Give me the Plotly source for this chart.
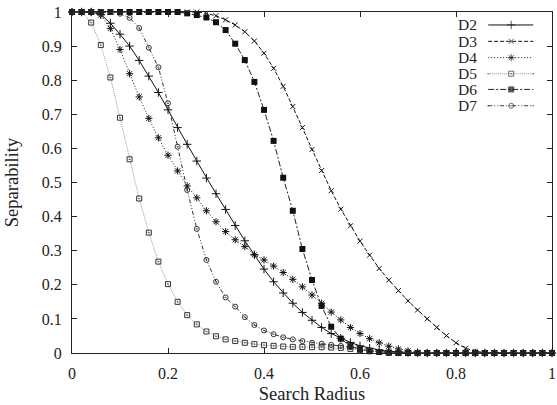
import plotly.graph_objects as go

# ---------------- data ----------------
radius = [0.00, 0.02, 0.04, 0.06, 0.08, 0.10, 0.12, 0.14, 0.16, 0.18,
          0.20, 0.22, 0.24, 0.26, 0.28, 0.30, 0.32, 0.34, 0.36, 0.38,
          0.40, 0.42, 0.44, 0.46, 0.48, 0.50, 0.52, 0.54, 0.56, 0.58,
          0.60, 0.62, 0.64, 0.66, 0.68, 0.70, 0.72, 0.74, 0.76, 0.78,
          0.80, 0.82, 0.84, 0.86, 0.88, 0.90, 0.92, 0.94, 0.96, 0.98, 1.00]

d2 = [1, 1, 1, 0.993, 0.967, 0.935, 0.900, 0.858, 0.812, 0.764,
      0.713, 0.661, 0.612, 0.563, 0.513, 0.467, 0.421, 0.374, 0.329, 0.288,
      0.246, 0.209, 0.176, 0.146, 0.119, 0.096, 0.075, 0.057, 0.043, 0.031,
      0.021, 0.014, 0.009, 0.005, 0.003, 0.001, 0, 0, 0, 0,
      0, 0, 0, 0, 0, 0, 0, 0, 0, 0, 0]

d3 = [1, 1, 1, 1, 1, 1, 1, 1, 1, 1,
      1, 1, 1, 1, 0.996, 0.989, 0.977, 0.962, 0.942, 0.915,
      0.879, 0.835, 0.782, 0.723, 0.661, 0.597, 0.535, 0.476, 0.422, 0.373,
      0.328, 0.287, 0.248, 0.214, 0.183, 0.153, 0.126, 0.100, 0.075, 0.051,
      0.030, 0.014, 0.005, 0.001, 0, 0, 0, 0, 0, 0, 0]

d4 = [1, 1, 1, 0.991, 0.952, 0.890, 0.819, 0.751, 0.688, 0.631,
      0.580, 0.534, 0.490, 0.455, 0.417, 0.385, 0.356, 0.332, 0.312, 0.288,
      0.273, 0.255, 0.236, 0.216, 0.194, 0.170, 0.146, 0.120, 0.097, 0.075,
      0.057, 0.042, 0.030, 0.020, 0.012, 0.006, 0.002, 0, 0, 0,
      0, 0, 0, 0, 0, 0, 0, 0, 0, 0, 0]

d5 = [1, 1, 0.969, 0.903, 0.808, 0.690, 0.568, 0.453, 0.353, 0.268,
      0.202, 0.150, 0.111, 0.084, 0.063, 0.049, 0.040, 0.035, 0.030, 0.026,
      0.023, 0.021, 0.019, 0.018, 0.018, 0.017, 0.017, 0.016, 0.015, 0.012,
      0.008, 0.005, 0.003, 0.001, 0, 0, 0, 0, 0, 0,
      0, 0, 0, 0, 0, 0, 0, 0, 0, 0, 0]

d6 = [1, 1, 1, 1, 1, 1, 1, 1, 1, 1,
      1, 1, 0.996, 0.991, 0.984, 0.970, 0.947, 0.907, 0.859, 0.795,
      0.713, 0.622, 0.514, 0.417, 0.305, 0.214, 0.138, 0.077, 0.042, 0.020,
      0.011, 0.006, 0.003, 0.001, 0, 0, 0, 0, 0, 0,
      0, 0, 0, 0, 0, 0, 0, 0, 0, 0, 0]

d7 = [1, 1, 1, 1, 1, 0.995, 0.983, 0.953, 0.895, 0.838,
      0.732, 0.605, 0.478, 0.364, 0.273, 0.209, 0.163, 0.136, 0.105, 0.082,
      0.066, 0.055, 0.046, 0.040, 0.035, 0.030, 0.027, 0.024, 0.021, 0.017,
      0.012, 0.007, 0.004, 0.002, 0, 0, 0, 0, 0, 0,
      0, 0, 0, 0, 0, 0, 0, 0, 0, 0, 0]

series_names = ["D2", "D3", "D4", "D5", "D6", "D7"]
series_values = [d2, d3, d4, d5, d6, d7]

x_ticks = [0, 0.2, 0.4, 0.6, 0.8, 1]
x_tick_labels = ["0", "0.2", "0.4", "0.6", "0.8", "1"]
y_ticks = [0, 0.1, 0.2, 0.3, 0.4, 0.5, 0.6, 0.7, 0.8, 0.9, 1]
y_tick_labels = ["0", "0.1", "0.2", "0.3", "0.4", "0.5", "0.6", "0.7", "0.8", "0.9", "1"]

# ---------------- styles ----------------
styles = {
    "D2": dict(line=dict(color="#111111", width=1, dash="solid"),
               marker=dict(symbol="cross-thin-open", size=6, line=dict(color="#111111", width=1))),
    "D3": dict(line=dict(color="#111111", width=1, dash="4px,2px"),
               marker=dict(symbol="x-thin-open", size=5, line=dict(color="#111111", width=1))),
    "D4": dict(line=dict(color="#111111", width=1, dash="1px,2px"),
               marker=dict(symbol="asterisk-open", size=6, line=dict(color="#111111", width=1))),
    "D5": dict(line=dict(color="#9a9a9a", width=1, dash="1px,1px"),
               marker=dict(symbol="square-open-dot", size=5, color="#333333", line=dict(color="#333333", width=1))),
    "D6": dict(line=dict(color="#222222", width=1, dash="6px,2px,2px,2px"),
               marker=dict(symbol="square", size=6, color="#111111", line=dict(color="#111111", width=0))),
    "D7": dict(line=dict(color="#333333", width=1, dash="4px,2px,1px,2px,1px,2px"),
               marker=dict(symbol="circle-open-dot", size=5, color="#333333", line=dict(color="#333333", width=1))),
}

FONT = "Liberation Serif, Times New Roman, serif"

fig = go.Figure()
for name, vals in zip(series_names, series_values):
    st = styles[name]
    fig.add_trace(go.Scatter(x=radius, y=vals, name=name, mode="lines+markers",
                             line=st["line"], marker=st["marker"], showlegend=False,
                             cliponaxis=False))

# ---------------- custom gnuplot-style key (text left, sample right) ----------------
KEY_X0, KEY_XM, KEY_X1 = 0.867, 0.915, 0.961   # sample line extent in key frame
KEY_TEXT_X = 0.847
KEY_ROWS = [0.962, 0.914, 0.866, 0.819, 0.773, 0.725]
for name, ky in zip(series_names, KEY_ROWS):
    st = styles[name]
    mk = dict(st["marker"])
    mk["size"] = [0, st["marker"]["size"], 0]
    fig.add_trace(go.Scatter(x=[KEY_X0, KEY_XM, KEY_X1], y=[ky, ky, ky], mode="lines+markers",
                             line=st["line"], marker=mk, showlegend=False, hoverinfo="skip",
                             xaxis="x2", yaxis="y2"))
    fig.add_annotation(x=KEY_TEXT_X, y=ky, xref="x2", yref="y2", text=name, showarrow=False,
                       xanchor="right", yanchor="middle", height=15,
                       font=dict(family=FONT, size=15.5, color="#222"))

axis_common = dict(showline=True, linecolor="#222222", linewidth=1.2, mirror="ticks",
                   ticks="inside", ticklen=5, tickwidth=1, tickcolor="#222222",
                   showgrid=False, zeroline=False, ticklabeloverflow="allow",
                   tickfont=dict(family=FONT, size=16, color="#222222"))

fig.update_layout(
    width=557, height=405,
    margin=dict(l=72, r=1, t=12, b=52),
    paper_bgcolor="white", plot_bgcolor="white",
    showlegend=False,
    xaxis=dict(range=[0, 1], tickvals=x_ticks, ticktext=x_tick_labels,
               title=dict(text="Search Radius", font=dict(family=FONT, size=18.5, color="#222222"), standoff=5),
               ticklabelstandoff=6, **axis_common),
    yaxis=dict(range=[0, 1], tickvals=y_ticks, ticktext=y_tick_labels,
               title=dict(text="Separability", font=dict(family=FONT, size=18.5, color="#222222"), standoff=18),
               ticklabelstandoff=6, **axis_common),
    xaxis2=dict(range=[0, 1], overlaying="x", visible=False, fixedrange=True),
    yaxis2=dict(range=[0, 1], overlaying="y", visible=False, fixedrange=True),
)

fig.write_html("out.html")
